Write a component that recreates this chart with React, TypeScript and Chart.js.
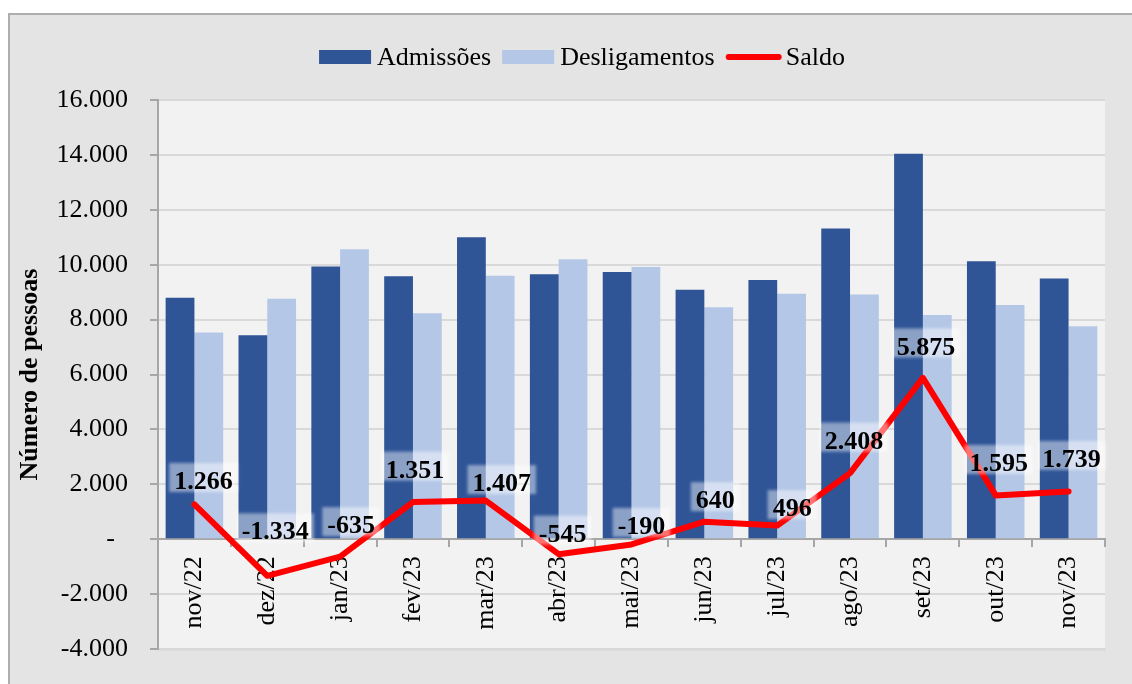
import React, { useEffect, useRef } from 'react';
import { Chart, registerables } from 'chart.js';

Chart.register(...registerables);

const categories = ['nov/22', 'dez/22', 'jan/23', 'fev/23', 'mar/23', 'abr/23', 'mai/23', 'jun/23', 'jul/23', 'ago/23', 'set/23', 'out/23', 'nov/23'];
const admissoes = [8800, 7430, 9930, 9580, 11000, 9650, 9730, 9090, 9440, 11320, 14040, 10130, 9500];
const desligamentos = [7534, 8764, 10565, 8229, 9593, 10195, 9920, 8450, 8944, 8912, 8165, 8535, 7761];
const saldo = [1266, -1334, -635, 1351, 1407, -545, -190, 640, 496, 2408, 5875, 1595, 1739];
const yMin = -4000;
const yMax = 16000;
const yStep = 2000;
const seriesNames = ['Admissões', 'Desligamentos', 'Saldo'];
const axisTitle = 'Número de pessoas';

// label placement relative to each Saldo point (pixels: dx, dy to text centre)
const labelOffsets: [number, number][] = [
  [9, -24], [8, -45], [11, -32], [2, -33], [16, -18], [4, -21], [10, -19],
  [11, -22], [15, -18], [4, -33], [3, -32], [3, -33], [3, -33],
];

const FONT = "'Liberation Serif', 'Times New Roman', serif";
const DARK = '#2f5597';
const LIGHT = '#b4c7e7';
const RED = '#ff0000';

function fmt(v: number): string {
  if (v === 0) return '-\u00A0\u00A0';
  const s = Math.abs(v).toString().replace(/\B(?=(\d{3})+(?!\d))/g, '.');
  return (v < 0 ? '-' : '') + s;
}

const backgroundPlugin = {
  id: 'bgPlugin',
  beforeDraw(chart: any) {
    const { ctx, width, height, chartArea } = chart;
    ctx.save();
    ctx.fillStyle = '#ffffff';
    ctx.fillRect(0, 0, width, height);
    ctx.fillStyle = '#e4e4e4';
    ctx.fillRect(8, 13, width - 8, height - 13);
    ctx.strokeStyle = '#adadad';
    ctx.lineWidth = 2;
    ctx.beginPath();
    ctx.moveTo(9, height);
    ctx.lineTo(9, 14);
    ctx.lineTo(width, 14);
    ctx.stroke();
    // plot area
    ctx.fillStyle = '#f2f2f2';
    ctx.fillRect(chartArea.left, chartArea.top, chartArea.right - chartArea.left, chartArea.bottom - chartArea.top);
    ctx.fillStyle = '#dcdcdc';
    ctx.fillRect(chartArea.left, chartArea.bottom, chartArea.right - chartArea.left + 1, 2);
    ctx.restore();
  },
};

const decorPlugin = {
  id: 'decorPlugin',
  afterDraw(chart: any) {
    const { ctx, chartArea } = chart;
    ctx.save();
    // axis title
    ctx.font = `bold 26px ${FONT}`;
    ctx.fillStyle = '#000';
    ctx.textAlign = 'center';
    ctx.textBaseline = 'alphabetic';
    ctx.translate(37, (chartArea.top + chartArea.bottom) / 2);
    ctx.rotate(-Math.PI / 2);
    ctx.fillText(axisTitle, 0, 0);
    ctx.restore();

    // legend
    ctx.save();
    ctx.font = `26px ${FONT}`;
    const colors = [DARK, LIGHT, RED];
    const symW = [52, 52, 56];
    const symGap = [6, 6, 4];
    const itemGap = 11;
    const widths = seriesNames.map((n, i) => symW[i] + symGap[i] + ctx.measureText(n).width);
    const total = widths.reduce((a, b) => a + b, 0) + itemGap * (seriesNames.length - 1);
    let x = 582 - total / 2;
    const cy = 57;
    seriesNames.forEach((n, i) => {
      if (i < 2) {
        ctx.fillStyle = colors[i];
        ctx.fillRect(x, cy - 7, symW[i], 14);
      } else {
        ctx.strokeStyle = colors[i];
        ctx.lineWidth = 6;
        ctx.lineCap = 'round';
        ctx.beginPath();
        ctx.moveTo(x + 3, cy);
        ctx.lineTo(x + symW[i] - 3, cy);
        ctx.stroke();
      }
      ctx.fillStyle = '#000';
      ctx.textAlign = 'left';
      ctx.textBaseline = 'alphabetic';
      ctx.fillText(n, x + symW[i] + symGap[i], 65);
      x += widths[i] + itemGap;
    });
    ctx.restore();
  },
};

const labelsPlugin = {
  id: 'saldoLabels',
  afterDatasetsDraw(chart: any) {
    const { ctx } = chart;
    const meta = chart.getDatasetMeta(2);
    ctx.save();
    ctx.font = `bold 26px ${FONT}`;
    meta.data.forEach((pt: any, i: number) => {
      const text = fmt(saldo[i]);
      const [dx, dy] = labelOffsets[i];
      const cx = pt.x + dx;
      const cy = pt.y + dy;
      const w = ctx.measureText(text).width;
      ctx.save();
      ctx.filter = 'blur(1.5px)';
      ctx.fillStyle = 'rgba(255,255,255,0.45)';
      ctx.fillRect(cx - w / 2 - 5, cy - 3 - 14.5, w + 10, 29);
      ctx.restore();
      ctx.fillStyle = '#000';
      ctx.textAlign = 'center';
      ctx.textBaseline = 'alphabetic';
      ctx.fillText(text, cx, cy + 8.6);
    });
    ctx.restore();
  },
};

export default function App() {
  const ref = useRef<HTMLCanvasElement | null>(null);

  useEffect(() => {
    if (!ref.current) return;
    const chart = new Chart(ref.current, {
      type: 'bar',
      data: {
        labels: categories,
        datasets: [
          {
            type: 'bar',
            label: seriesNames[0],
            data: admissoes,
            backgroundColor: DARK,
            order: 1,
            categoryPercentage: 0.79,
            barPercentage: 1.0,
          },
          {
            type: 'bar',
            label: seriesNames[1],
            data: desligamentos,
            backgroundColor: LIGHT,
            order: 1,
            categoryPercentage: 0.79,
            barPercentage: 1.0,
          },
          {
            type: 'line',
            label: seriesNames[2],
            data: saldo,
            borderColor: RED,
            backgroundColor: RED,
            borderWidth: 6,
            pointRadius: 0,
            pointHoverRadius: 0,
            borderJoinStyle: 'round',
            borderCapStyle: 'round',
            tension: 0,
            order: 0,
          } as any,
        ],
      },
      options: {
        responsive: false,
        animation: false,
        devicePixelRatio: 1,
        layout: { padding: { top: 100, right: 27, bottom: 35, left: 0 } },
        plugins: {
          legend: { display: false },
          tooltip: { enabled: false },
          title: { display: false },
        },
        scales: {
          x: {
            position: { y: 0 } as any,
            offset: true,
            grid: {
              display: true,
              drawOnChartArea: false,
              drawTicks: true,
              tickLength: 7,
              color: '#a6a6a6',
              lineWidth: 2,
              offset: true,
            },
            border: { display: true, color: '#a6a6a6', width: 2 },
            ticks: {
              font: { family: FONT, size: 26 },
              color: '#000',
              minRotation: 90,
              maxRotation: 90,
              autoSkip: false,
              padding: 10,
            },
          },
          y: {
            min: yMin,
            max: yMax,
            ticks: {
              stepSize: yStep,
              font: { family: FONT, size: 26 },
              color: '#000',
              padding: 22,
              callback: (v: any) => fmt(Number(v)),
            },
            grid: {
              color: '#d9d9d9',
              lineWidth: 2,
              tickColor: '#a6a6a6',
              tickLength: 8,
              drawTicks: true,
            },
            border: { display: true, color: '#a6a6a6', width: 2 },
            afterFit: (s: any) => {
              s.width = 158;
              s.paddingTop = 0;
              s.paddingBottom = 0;
            },
          },
        },
      },
      plugins: [backgroundPlugin, labelsPlugin, decorPlugin],
    });
    return () => chart.destroy();
  }, []);

  return (
    <div style={{ position: 'fixed', left: 0, top: 0, width: 1132, height: 684 }}>
      <canvas ref={ref} width={1132} height={684} style={{ display: 'block' }} />
    </div>
  );
}
